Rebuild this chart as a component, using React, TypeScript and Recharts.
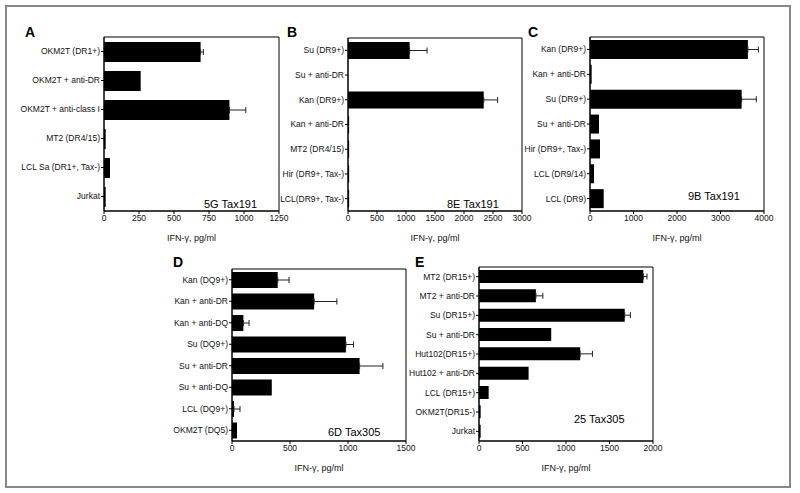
import React from "react";
import { BarChart, Bar, XAxis, YAxis, ErrorBar, ReferenceArea } from "recharts";

const FONT = '"Liberation Sans", Arial, Helvetica, sans-serif';
const AXIS_LABEL = "IFN-γ, pg/ml";

// A - 5G Tax191
const aLabels = ["OKM2T (DR1+)", "OKM2T + anti-DR", "OKM2T + anti-class I", "MT2 (DR4/15)", "LCL Sa (DR1+, Tax-)", "Jurkat"];
const aValues = [690, 262, 896, 12, 43, 12];
const aErrors = [20, null, 117, null, null, null];
const aTicks = [0, 250, 500, 750, 1000, 1250];

// B - 8E Tax191
const bLabels = ["Su (DR9+)", "Su + anti-DR", "Kan (DR9+)", "Kan + anti-DR", "MT2 (DR4/15)", "Hir (DR9+, Tax-)", "LCL(DR9+, Tax-)"];
const bValues = [1063, 0, 2340, 20, 20, 20, 20];
const bErrors = [300, null, 240, null, null, null, null];
const bTicks = [0, 500, 1000, 1500, 2000, 2500, 3000];

// C - 9B Tax191
const cLabels = ["Kan (DR9+)", "Kan + anti-DR", "Su (DR9+)", "Su + anti-DR", "Hir (DR9+, Tax-)", "LCL (DR9/14)", "LCL (DR9)"];
const cValues = [3630, 38, 3486, 207, 230, 92, 315];
const cErrors = [240, null, 337, null, null, null, null];
const cTicks = [0, 1000, 2000, 3000, 4000];

// D - 6D Tax305
const dLabels = ["Kan (DQ9+)", "Kan + anti-DR", "Kan + anti-DQ", "Su (DQ9+)", "Su + anti-DR", "Su + anti-DQ", "LCL (DQ9+)", "OKM2T (DQ5)"];
const dValues = [394, 708, 98, 982, 1100, 343, 17, 43];
const dErrors = [98, 196, 49, 66, 201, null, 52, null];
const dTicks = [0, 500, 1000, 1500];

// E - 25 Tax305
const eLabels = ["MT2 (DR15+)", "MT2 + anti-DR", "Su (DR15+)", "Su + anti-DR", "Hut102(DR15+)", "Hut102 + anti-DR", "LCL (DR15+)", "OKM2T(DR15-)", "Jurkat"];
const eValues = [1889, 654, 1675, 830, 1163, 570, 111, 19, 19];
const eErrors = [42, 80, 65, null, 141, null, null, null, null];
const eTicks = [0, 500, 1000, 1500, 2000];

type Box = { l: number; t: number; r: number; b: number };

interface PanelProps {
  letter: string;
  note: string;
  labels: string[];
  values: number[];
  errors: (number | null)[];
  ticks: number[];
  box: Box;
  barSize: number;
  letterPos: [number, number];
  notePos: [number, number];
}

const CategoryTick = (props: any) => (
  <text
    x={props.x}
    y={props.y}
    dy="0.35em"
    textAnchor="end"
    fontSize={8.5}
    fill="#111"
    fontFamily={FONT}
  >
    {props.payload.value}
  </text>
);

function Panel({ letter, note, labels, values, errors, ticks, box, barSize, letterPos, notePos }: PanelProps) {
  const yw = 110;
  const left = box.l - yw;
  const top = box.t - 10;
  const width = box.r - left + 10;
  const height = box.b - top + 45;
  const max = ticks[ticks.length - 1];
  const data = labels.map((name, i) => ({ name, value: values[i], err: errors[i] }));
  const tickStyle = { fontSize: 8.5, fill: "#111", fontFamily: FONT };

  return (
    <>
      <div style={{ position: "absolute", left, top }}>
        <BarChart
          width={width}
          height={height}
          data={data}
          layout="vertical"
          barSize={barSize}
          margin={{ top: 10, right: 10, bottom: 5, left: 0 }}
        >
          <XAxis
            type="number"
            domain={[0, max]}
            ticks={ticks}
            interval={0}
            allowDataOverflow
            tickSize={3}
            tickMargin={1}
            height={40}
            stroke="#000"
            tick={tickStyle}
            label={{ value: AXIS_LABEL, position: "insideBottom", offset: 10, fontSize: 9, fill: "#111", fontFamily: FONT }}
          />
          <YAxis
            type="category"
            dataKey="name"
            width={yw}
            interval={0}
            tickSize={3}
            tickMargin={1}
            stroke="#000"
            tick={CategoryTick}
          />
          <ReferenceArea x1={0} x2={max} fill="none" stroke="#000" strokeWidth={1} ifOverflow="visible" />
          <Bar dataKey="value" fill="#000" isAnimationActive={false}>
            <ErrorBar
              dataKey={(d: any) => (d.err == null ? undefined : [0, d.err])}
              direction="x"
              width={3}
              stroke="#222"
              strokeWidth={1}
              isAnimationActive={false}
            />
          </Bar>
        </BarChart>
      </div>
      <div
        style={{
          position: "absolute",
          left: letterPos[0],
          top: letterPos[1] - 8,
          fontFamily: FONT,
          fontWeight: "bold",
          fontSize: 14,
          lineHeight: "16px",
        }}
      >
        {letter}
      </div>
      <div
        style={{
          position: "absolute",
          left: notePos[0],
          top: notePos[1] - 7,
          fontFamily: FONT,
          fontSize: 11,
          lineHeight: "14px",
          whiteSpace: "nowrap",
        }}
      >
        {note}
      </div>
    </>
  );
}

export default function App() {
  return (
    <div style={{ position: "absolute", left: 0, top: 0, width: 800, height: 493, background: "#fff", overflow: "hidden" }}>
      <div
        style={{
          position: "absolute",
          left: 5,
          top: 5,
          width: 782,
          height: 479,
          border: "2px solid #888",
        }}
      />
      <Panel letter="A" note="5G Tax191" labels={aLabels} values={aValues} errors={aErrors} ticks={aTicks}
        box={{ l: 104, t: 37, r: 279, b: 211 }} barSize={20} letterPos={[25, 32]} notePos={[204, 204]} />
      <Panel letter="B" note="8E Tax191" labels={bLabels} values={bValues} errors={bErrors} ticks={bTicks}
        box={{ l: 348, t: 38, r: 522, b: 211 }} barSize={17} letterPos={[287, 32]} notePos={[447, 204]} />
      <Panel letter="C" note="9B Tax191" labels={cLabels} values={cValues} errors={cErrors} ticks={cTicks}
        box={{ l: 590, t: 37, r: 764, b: 211 }} barSize={19} letterPos={[528, 32]} notePos={[688, 196]} />
      <Panel letter="D" note="6D Tax305" labels={dLabels} values={dValues} errors={dErrors} ticks={dTicks}
        box={{ l: 232, t: 269, r: 406, b: 441 }} barSize={16} letterPos={[173, 262]} notePos={[328, 432]} />
      <Panel letter="E" note="25 Tax305" labels={eLabels} values={eValues} errors={eErrors} ticks={eTicks}
        box={{ l: 479, t: 267, r: 653, b: 441 }} barSize={13} letterPos={[415, 262]} notePos={[574, 419]} />
    </div>
  );
}
